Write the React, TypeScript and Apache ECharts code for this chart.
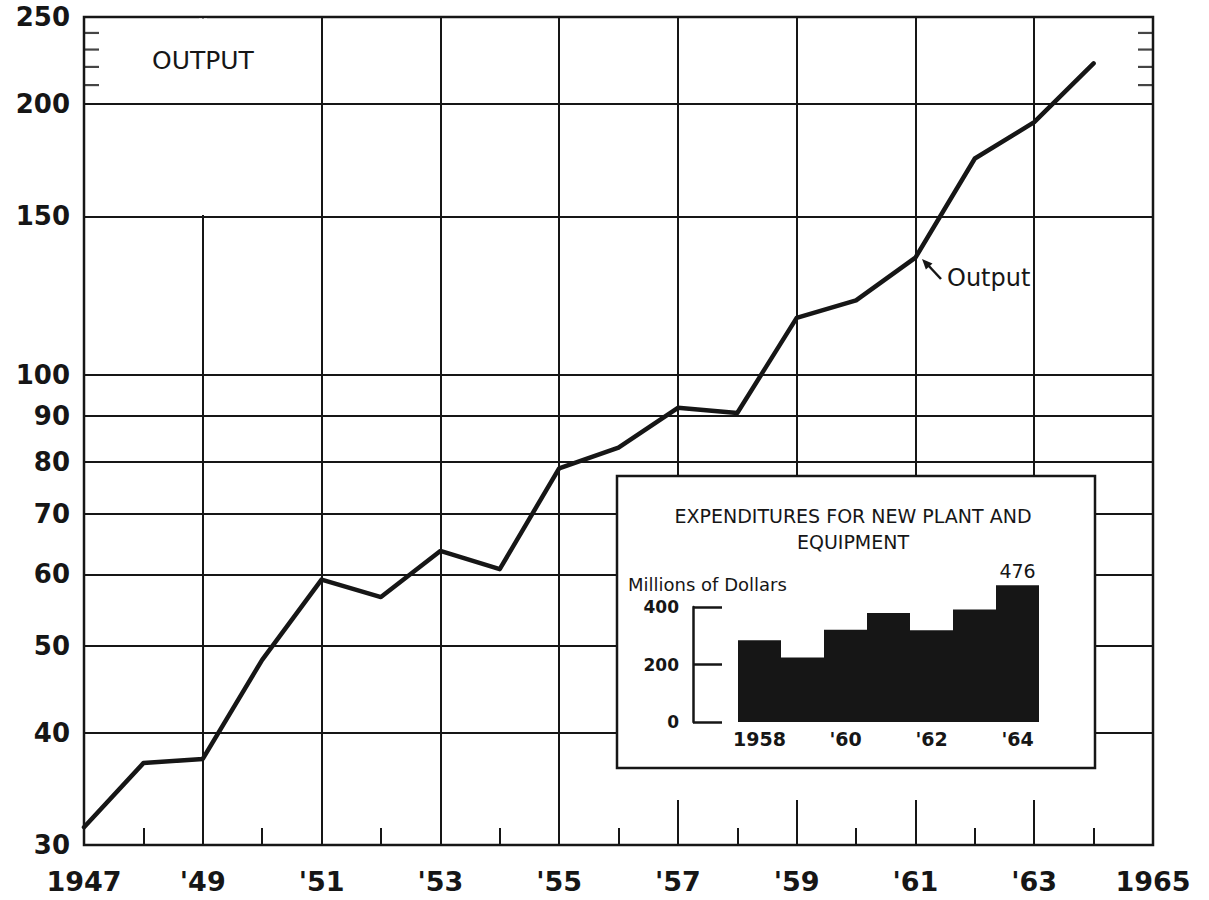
import React, { useEffect, useRef } from 'react';
import * as echarts from 'echarts';

// ---- data ----
const years = [1947, 1948, 1949, 1950, 1951, 1952, 1953, 1954, 1955, 1956, 1957, 1958, 1959, 1960, 1961, 1962, 1963, 1964];
const output = [31.4, 37.0, 37.4, 48.2, 59.2, 56.6, 63.7, 60.8, 78.7, 83.0, 91.9, 90.7, 115.7, 121.0, 135.0, 174.0, 191.0, 222.0];
const yGridValues = [30, 40, 50, 60, 70, 80, 90, 100, 150, 200, 250];
const yMinorTicks = [210, 220, 230, 240];
const xMin = 1947;
const xMax = 1965;

const expYears = ['1958', '1959', '1960', '1961', '1962', '1963', '1964'];
const expValues = [284, 224, 321, 379, 319, 391, 476];
const expMin = 0;
const expMax = 400;
const expInterval = 200;

const INK = '#161616';
const FONT = '"DejaVu Sans", sans-serif';

export default function App() {
  const ref = useRef<HTMLDivElement>(null);

  useEffect(() => {
    const chart = echarts.init(ref.current!, null, { renderer: 'svg' });

    const mainData = years.map((y, i) => [y, output[i]]);
    const tickData = [
      ...yMinorTicks.map((v) => ({ value: [xMin, v], symbolOffset: [7.5, 0] })),
      ...yMinorTicks.map((v) => ({ value: [xMax, v], symbolOffset: [-7.5, 0] })),
    ];

    const option: any = {
      animation: false,
      backgroundColor: '#ffffff',
      grid: [
        {
          left: 84, top: 17, width: 1069, height: 828,
          show: true, borderColor: INK, borderWidth: 2.5, backgroundColor: 'transparent',
          containLabel: false, outerBoundsMode: 'none',
        },
        {
          left: 738, top: 607, width: 301, height: 115,
          containLabel: false, outerBoundsMode: 'none',
        },
      ],
      xAxis: [
        {
          type: 'value', gridIndex: 0, min: xMin, max: xMax, interval: 2,
          axisLine: { show: false },
          axisTick: { show: false, inside: true },
          minorTick: { show: true, splitNumber: 2, length: 17, lineStyle: { color: INK, width: 2 } },
          splitLine: { show: true, lineStyle: { color: INK, width: 2 } },
          minorSplitLine: { show: false },
          axisLabel: {
            margin: 23, fontSize: 27, fontWeight: 'bold', fontFamily: FONT, color: INK,
            formatter: (v: number) => (v === xMin || v === xMax ? String(v) : "'" + String(v).slice(2)),
          },
        },
        {
          type: 'category', gridIndex: 1, data: expYears, z: 7,
          axisLine: { show: false },
          axisTick: { show: false },
          axisLabel: {
            interval: 1, margin: 7, fontSize: 19, fontWeight: 'bold', fontFamily: FONT, color: INK,
            formatter: (v: string, i: number) => (i === 0 ? v : "'" + v.slice(2)),
          },
        },
      ],
      yAxis: [
        {
          type: 'log', gridIndex: 0, min: 30, max: 250, logBase: 10,
          axisLine: { show: false }, axisTick: { show: false }, axisLabel: { show: false },
          splitLine: { show: false }, minorTick: { show: false }, minorSplitLine: { show: false },
        },
        {
          type: 'value', gridIndex: 1, min: expMin, max: expMax, interval: expInterval, offset: 45, z: 7,
          axisLine: { show: true, lineStyle: { color: INK, width: 2.5 } },
          axisTick: { show: true, inside: true, length: 29, lineStyle: { color: INK, width: 2.5 } },
          axisLabel: { margin: 14, fontSize: 17, fontWeight: 'bold', fontFamily: FONT, color: INK },
          splitLine: { show: false },
        },
      ],
      series: [
        {
          name: 'grid-lines', type: 'line', xAxisIndex: 0, yAxisIndex: 0, z: 1,
          data: mainData, showSymbol: false, symbol: 'none', silent: true,
          lineStyle: { opacity: 0 },
          markLine: {
            silent: true, symbol: ['none', 'none'], animation: false,
            lineStyle: { color: INK, width: 2, type: 'solid' },
            label: {
              show: true, position: 'start', distance: 14,
              fontSize: 26, fontWeight: 'bold', fontFamily: FONT, color: INK,
              formatter: (p: any) => String(p.value),
            },
            emphasis: { disabled: true },
            data: yGridValues.map((v) => ({ yAxis: v })),
          },
        },
        {
          name: 'minor-ticks', type: 'scatter', xAxisIndex: 0, yAxisIndex: 0, z: 3, silent: true,
          symbol: 'rect', symbolSize: [15, 2.2], itemStyle: { color: INK },
          data: tickData,
        },
        {
          name: 'Output', type: 'line', xAxisIndex: 0, yAxisIndex: 0, z: 10,
          data: mainData, symbol: 'none', showSymbol: false,
          lineStyle: { color: INK, width: 4.5, join: 'round', cap: 'round' },
        },
        {
          name: 'Expenditures', type: 'bar', xAxisIndex: 1, yAxisIndex: 1, z: 7,
          data: expValues, barCategoryGap: '0%', clip: false,
          itemStyle: { color: INK },
          label: {
            show: true, position: 'top', distance: 5,
            fontSize: 19, fontFamily: FONT, color: INK,
            formatter: (p: any) => (p.dataIndex === expValues.length - 1 ? String(p.value) : ''),
          },
        },
      ],
      graphic: [
        { type: 'rect', z: 5, silent: true, shape: { x: 560, y: 477, width: 554, height: 323 }, style: { fill: '#ffffff' } },
        { type: 'rect', z: 5, silent: true, shape: { x: 199, y: 18.4, width: 8, height: 196.6 }, style: { fill: '#ffffff' } },
        { type: 'rect', z: 6, silent: true, shape: { x: 617, y: 476, width: 478, height: 292 }, style: { fill: '#ffffff', stroke: INK, lineWidth: 2.5 } },
        {
          type: 'text', z: 8, x: 152, y: 60,
          style: { text: 'OUTPUT', fill: INK, font: `25px ${FONT}`, textAlign: 'left', textVerticalAlign: 'middle', align: 'left', verticalAlign: 'middle' },
        },
        {
          type: 'text', z: 8, x: 853, y: 529,
          style: {
            text: 'EXPENDITURES FOR NEW PLANT AND\nEQUIPMENT', fill: INK, font: `19px ${FONT}`, lineHeight: 26,
            textAlign: 'center', textVerticalAlign: 'middle', align: 'center', verticalAlign: 'middle',
          },
        },
        {
          type: 'text', z: 8, x: 628, y: 584,
          style: { text: 'Millions of Dollars', fill: INK, font: `18px ${FONT}`, textAlign: 'left', textVerticalAlign: 'middle', align: 'left', verticalAlign: 'middle' },
        },
        {
          type: 'text', z: 8, x: 947, y: 278,
          style: { text: 'Output', fill: INK, font: `24px ${FONT}`, textAlign: 'left', textVerticalAlign: 'middle', align: 'left', verticalAlign: 'middle' },
        },
        { type: 'line', z: 8, silent: true, shape: { x1: 941, y1: 279, x2: 927, y2: 264 }, style: { stroke: INK, lineWidth: 2.5 } },
        { type: 'polygon', z: 8, silent: true, shape: { points: [[922, 259], [932.5, 263.4], [925.9, 269.6]] }, style: { fill: INK } },
      ],
    };

    chart.setOption(option);
    return () => chart.dispose();
  }, []);

  return (
    <div
      ref={ref}
      style={{ position: 'fixed', left: 0, top: 0, width: 1209, height: 900, background: '#ffffff' }}
    />
  );
}
